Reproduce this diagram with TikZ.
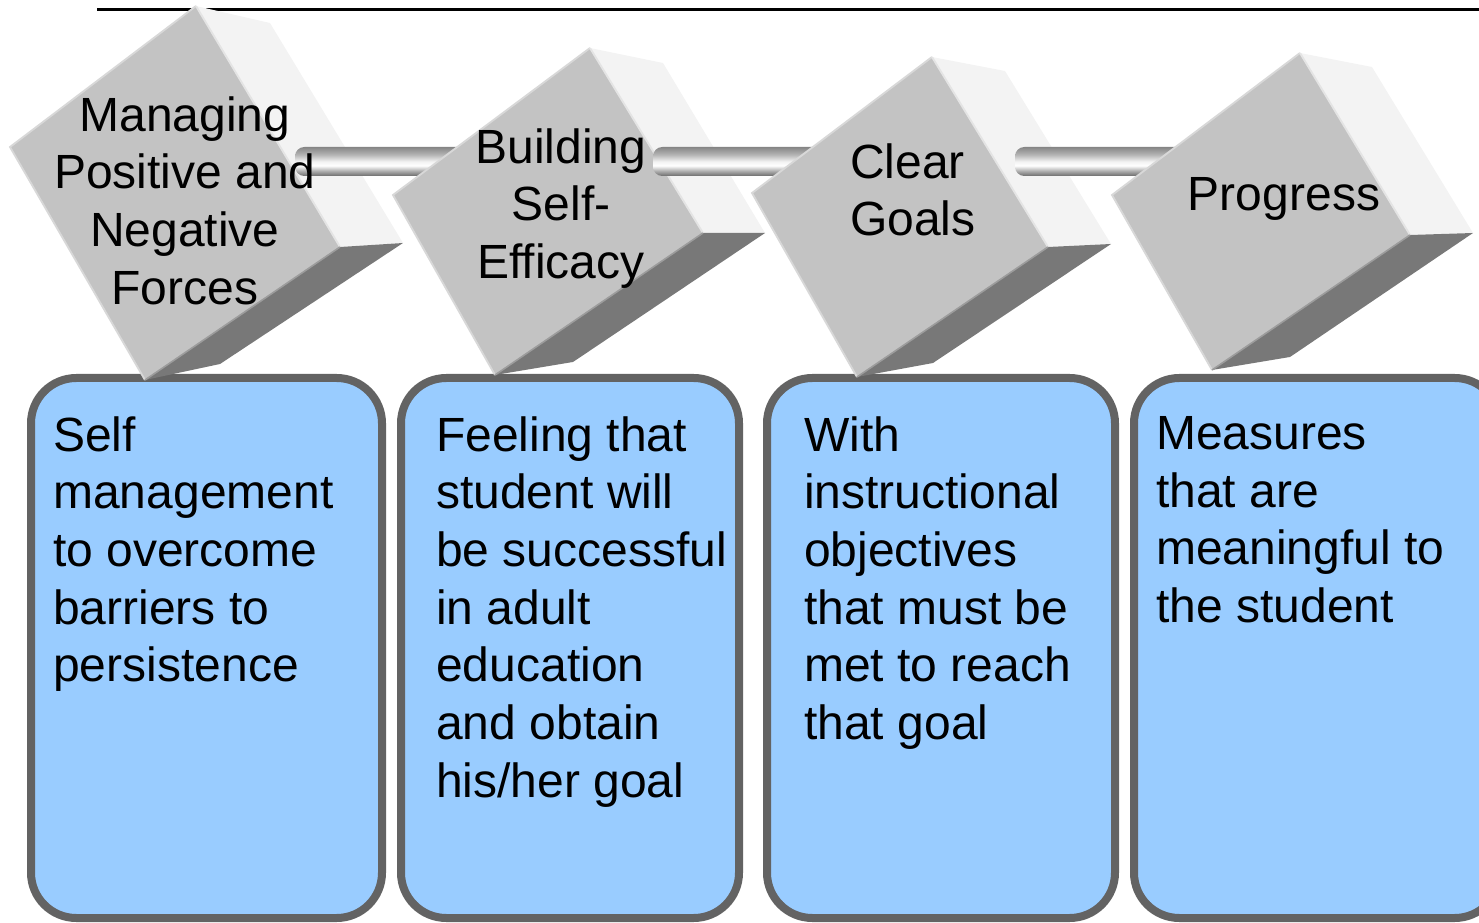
\documentclass[tikz,border=0pt]{standalone}
\usepackage{fontspec}
\setmainfont{Liberation Sans}
\definecolor{cubefront}{HTML}{C3C3C3}
\definecolor{cubeside}{HTML}{F3F3F3}
\definecolor{cubeunder}{HTML}{787878}
\definecolor{rimlight}{HTML}{D8D8D8}
\definecolor{rimside}{HTML}{E4E4E4}
\definecolor{rimdark}{HTML}{9C9C9C}
\definecolor{boxfill}{HTML}{99CCFF}
\definecolor{boxline}{HTML}{636363}
\definecolor{tubeA}{HTML}{6C6C6C}
\definecolor{tubeB}{HTML}{A8A8A8}
\definecolor{tubeC}{HTML}{F2F2F2}
\definecolor{tubeD}{HTML}{B4B4B4}
\definecolor{tubeE}{HTML}{858585}
% metal rod: dark rims, bright band a little below the middle
\pgfdeclareverticalshading{tube}{100bp}{color(0bp)=(tubeA); color(25bp)=(tubeA); color(33bp)=(tubeB); color(43bp)=(white); color(50bp)=(tubeC); color(62bp)=(tubeD); color(75bp)=(tubeE); color(100bp)=(tubeE)}
\tikzset{
  front/.style={fill=cubefront},
  side/.style={fill=cubeside},
  under/.style={fill=cubeunder},
  rimA/.style={draw=rimlight, line width=1.4pt},
  rimB/.style={draw=rimside, line width=1.4pt},
  rimC/.style={draw=rimdark, line width=1.2pt},
  rod/.style={shading=tube, rounded corners=7pt},
  panel/.style={draw=boxline, line width=6pt, fill=boxfill, rounded corners=34pt},
  cubetext/.style={anchor=north, align=center, inner sep=0pt, font=\fontsize{36}{43.3}\selectfont},
  boxtext/.style={anchor=north west, align=left, inner sep=0pt, font=\fontsize{36}{43.3}\selectfont}
}
\begin{document}
\begin{tikzpicture}[x=0.75pt, y=-0.75pt]
\useasboundingbox (0,0) rectangle (1479,923);
\clip (0,0) rectangle (1479,923);

% rule across the top
\coordinate (ruleL) at (97,9.5);
\coordinate (ruleR) at (1479,9.5);
\draw[line width=1.9pt] (ruleL) -- (ruleR);

% description panels
\draw[panel] (31,378) rectangle (382,918);
\draw[panel] (401,378) rectangle (739,918);
\draw[panel] (767,378) rectangle (1115,918);
\draw[panel] (1134,378) rectangle (1500,918);

\node[boxtext] (d1) at (53,416) {Self\\management\\to overcome\\barriers to\\persistence};
\node[boxtext] (d2) at (436,416) {Feeling that\\student will\\be successful\\in adult\\education\\and obtain\\his/her goal};
\node[boxtext] (d3) at (804,416) {With\\instructional\\objectives\\that must be\\met to reach\\that goal};
\node[boxtext] (d4) at (1156,416) {Measures\\that are\\meaningful to\\the student};

% cube 1
\fill[front] (196,6) -- (10,147) -- (145,380) -- (340,247) -- cycle;
\fill[side] (196,6) -- (270,23) -- (403,243) -- (340,247) -- cycle;
\fill[under] (340,247) -- (403,243) -- (220,364) -- (145,380) -- cycle;
\draw[rimA] (145,380) -- (10,147) -- (196,6);
\draw[rimB] (196,6) -- (340,247);
\draw[rimC] (340,247) -- (145,380);

% rod 1
\coordinate (r1a) at (295,147);
\coordinate (r1b) at (470,176);
\path[rod] (r1a) rectangle (r1b);

% cube 2
\fill[front] (590,48) -- (393,195) -- (495,375) -- (703,233) -- cycle;
\fill[side] (590,48) -- (663,63) -- (765,233) -- (703,233) -- cycle;
\fill[under] (703,233) -- (765,233) -- (573,362) -- (495,375) -- cycle;
\draw[rimA] (495,375) -- (393,195) -- (590,48);
\draw[rimB] (590,48) -- (703,233);
\draw[rimC] (703,233) -- (495,375);

% rod 2
\coordinate (r2a) at (653,147);
\coordinate (r2b) at (830,176);
\path[rod] (r2a) rectangle (r2b);

% cube 3
\fill[front] (932,57) -- (752,193) -- (857,377) -- (1048,247) -- cycle;
\fill[side] (932,57) -- (1005,71) -- (1111,244) -- (1048,247) -- cycle;
\fill[under] (1048,247) -- (1111,244) -- (933,363) -- (857,377) -- cycle;
\draw[rimA] (857,377) -- (752,193) -- (932,57);
\draw[rimB] (932,57) -- (1048,247);
\draw[rimC] (1048,247) -- (857,377);

% rod 3
\coordinate (r3a) at (1015,147);
\coordinate (r3b) at (1190,176);
\path[rod] (r3a) rectangle (r3b);

% cube 4
\fill[front] (1300,53) -- (1112,195) -- (1212,370) -- (1410,235) -- cycle;
\fill[side] (1300,53) -- (1372,67) -- (1473,233) -- (1410,235) -- cycle;
\fill[under] (1410,235) -- (1473,233) -- (1290,357) -- (1212,370) -- cycle;
\draw[rimA] (1212,370) -- (1112,195) -- (1300,53);
\draw[rimB] (1300,53) -- (1410,235);
\draw[rimC] (1410,235) -- (1212,370);

% cube labels
\node[cubetext] (c1) at (185,96) {Managing\\Positive and\\Negative\\Forces};
\node[cubetext] (c2) at (561,128) {Building\\Self-\\Efficacy};
\node[cubetext, anchor=north west, align=left] (c3) at (850,143) {Clear\\Goals};
\node[cubetext] (c4) at (1284,177) {Progress};
\end{tikzpicture}
\end{document}
